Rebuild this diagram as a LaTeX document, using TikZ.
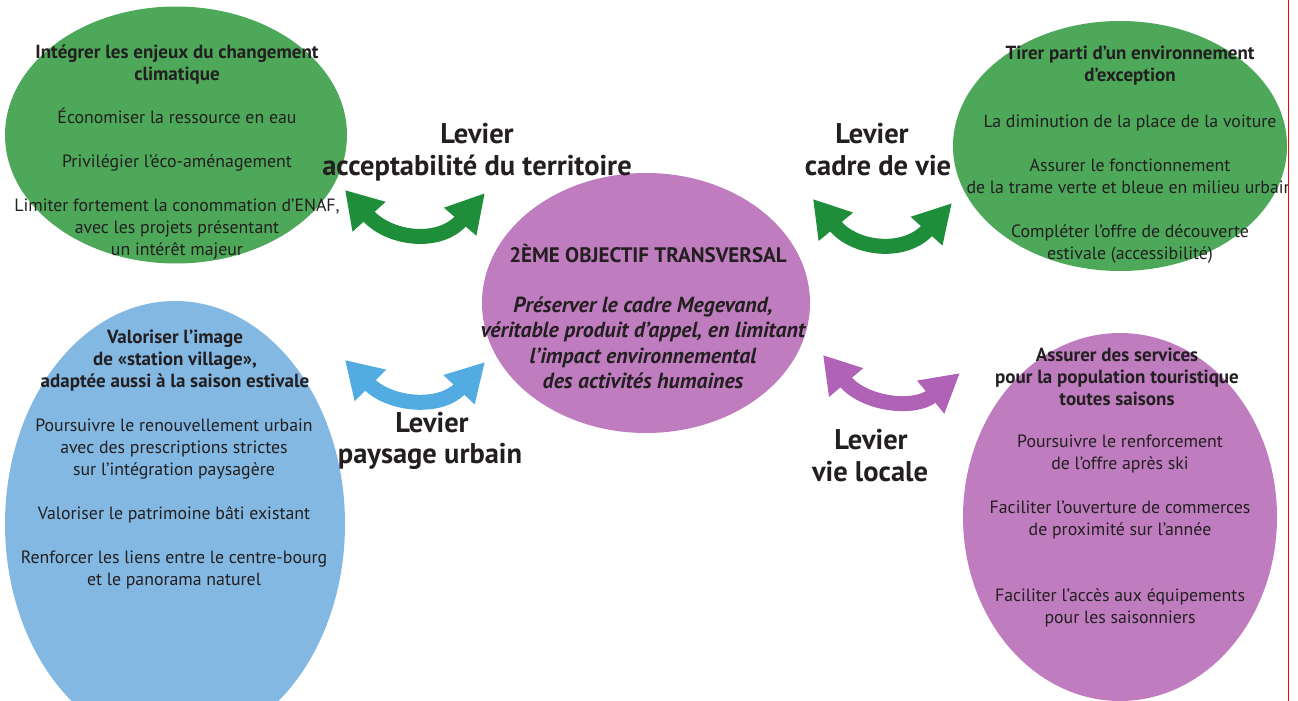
\documentclass[tikz,border=0pt]{standalone}
\usepackage{fontspec}
\setmainfont{PT Sans}
\usetikzlibrary{shapes.geometric,arrows.meta}
\definecolor{ellgreen}{HTML}{4DA85A}
\definecolor{arrgreen}{HTML}{1F8E3A}
\definecolor{ellblue}{HTML}{82B8E2}
\definecolor{arrblue}{HTML}{52ACE2}
\definecolor{ellpurple}{HTML}{BF7CBF}
\definecolor{arrpurple}{HTML}{B062B6}
\definecolor{txt}{HTML}{231F20}
\begin{document}
\begin{tikzpicture}[x=1pt,y=-1pt,
  blob/.style={ellipse, inner sep=0pt, draw=none},
  body/.style={align=center, text=txt, inner sep=0pt, font=\fontsize{17.8}{22}\selectfont},
  head/.style={align=center, text=txt, inner sep=0pt, font=\bfseries\fontsize{19}{22}\selectfont},
  core/.style={align=center, text=txt, inner sep=0pt, font=\bfseries\itshape\fontsize{21.8}{25.5}\selectfont},
  lever/.style={text=txt, inner sep=0pt, anchor=base, font=\bfseries\fontsize{28.5}{32}\selectfont},
  swing/.style={line width=15pt, {Triangle[length=36pt,width=42pt]}-{Triangle[length=38pt,width=40pt]}},
]
\useasboundingbox (0,0) rectangle (1298,701);
\fill[white] (0,0) rectangle (1298,701);
\begin{scope}
\clip (0,0) rectangle (1288,701);
% ellipses
\node[blob, fill=ellgreen, minimum width=342pt, minimum height=257pt] (e1) at (176,135) {};
\node[blob, fill=ellgreen, minimum width=334pt, minimum height=250pt] (e2) at (1120,146) {};
\node[blob, fill=ellpurple, minimum width=328pt, minimum height=260pt] (ec) at (646,303) {};
\node[blob, fill=ellblue, minimum width=340pt, minimum height=446pt] (e3) at (175,524) {};
\node[blob, fill=ellpurple, minimum width=314pt, minimum height=368pt] (e4) at (1120,517) {};
% texts top-left
\node[head] (t1) at (177,64.5) {Intégrer les enjeux du changement\\climatique};
\node[body] (b1) at (177,184) {Économiser la ressource en eau\\[22pt]Privilégier l'éco-aménagement\\[22pt]Limiter fortement la conommation d'ENAF,\\avec les projets présentant\\un intérêt majeur};
% texts top-right
\node[head] (t2) at (1130,66) {Tirer parti d'un environnement\\d'exception};
\node[body] (b2) at (1130,189) {La diminution de la place de la voiture\\[22pt]Assurer le fonctionnement\\de la trame verte et bleue en milieu urbain\\[22pt]Compléter l'offre de découverte\\estivale (accessibilité)};
% centre
\node[head, font=\bfseries\fontsize{21}{22}\selectfont] (tc) at (648,254) {2ÈME OBJECTIF TRANSVERSAL};
\node[core] (bc) at (643,343) {Préserver le cadre Megevand,\\véritable produit d'appel, en limitant\\l'impact environnemental\\des activités humaines};
% bottom-left
\node[head] (t3) at (175,361) {Valoriser l'image\\de «station village»,\\adaptée aussi à la saison estivale};
\node[body] (b3) at (174,504) {Poursuivre le renouvellement urbain\\avec des prescriptions strictes\\sur l'intégration paysagère\\[22pt]Valoriser le patrimoine bâti existant\\[22pt]Renforcer les liens entre le centre-bourg\\et le panorama naturel};
% bottom-right
\node[head] (t4) at (1117,377) {Assurer des services\\pour la population touristique\\toutes saisons};
\node[body] (b4) at (1120,531) {Poursuivre le renforcement\\de l'offre après ski\\[22pt]Faciliter l'ouverture de commerces\\de proximité sur l'année\\[44pt]Faciliter l'accès aux équipements\\pour les saisonniers};
% levers
\node[lever] (l1a) at (477,143) {Levier};
\node[lever] (l1b) at (477,175) {acceptabilité du territoire};
\node[lever] (l2a) at (872,143) {Levier};
\node[lever] (l2b) at (878,175) {cadre de vie};
\node[lever] (l3a) at (432,432) {Levier};
\node[lever] (l3b) at (430,463) {paysage urbain};
\node[lever] (l4a) at (871,449) {Levier};
\node[lever] (l4b) at (870,481) {vie locale};
% arrow ends
\coordinate (g1a) at (345,190); \coordinate (g1b) at (485,193);
\coordinate (g2a) at (813,199); \coordinate (g2b) at (952,203);
\coordinate (bl1) at (345,360); \coordinate (bl2) at (485,362);
\coordinate (pu1) at (823,355); \coordinate (pu2) at (960,373);
\draw[swing, arrgreen] (g1a) .. controls (390,240) and (440,245) .. (g1b);
\draw[swing, arrgreen] (g2a) .. controls (855,250) and (905,255) .. (g2b);
\draw[swing, arrblue] (bl1) .. controls (390,405) and (440,410) .. (bl2);
\draw[swing, arrpurple] (pu1) .. controls (865,405) and (915,410) .. (pu2);
\end{scope}
\draw[red, line width=1.2pt] (1288.6,0) -- (1288.6,701);
\end{tikzpicture}
\end{document}
